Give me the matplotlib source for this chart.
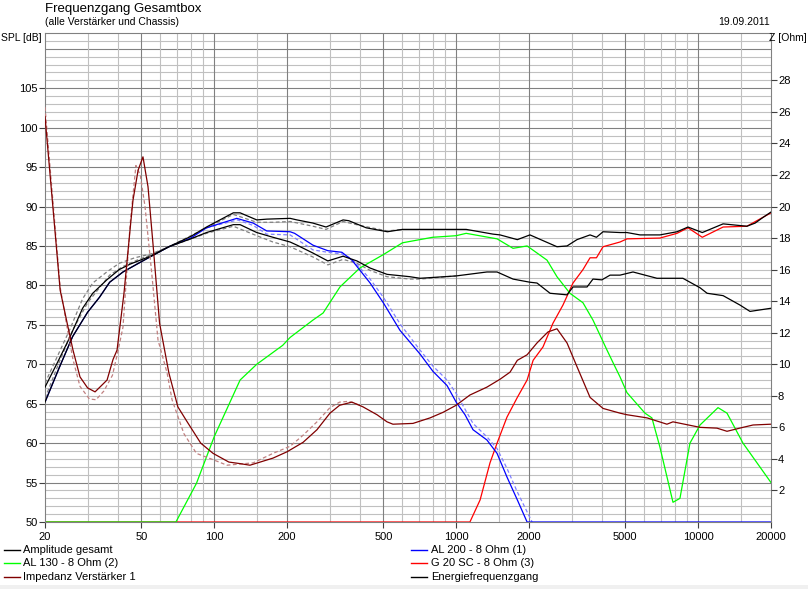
import matplotlib
matplotlib.use('Agg')
import matplotlib.pyplot as plt
from matplotlib.lines import Line2D
from matplotlib.patches import Rectangle

plt.rcParams['font.family'] = ['Liberation Sans', 'DejaVu Sans']

# --- data (Hz -> dB, Hz -> Ohm) ---
amp_f = [20, 23, 26, 30, 33.6, 37, 42, 48, 55, 65, 80, 93, 120, 128, 150, 175, 206, 220,
         256, 295, 341, 389, 441, 518, 644, 709, 1000, 1340, 1476, 1718, 2018, 2158, 2444,
         2872, 3040, 3475, 3676, 4000, 4325, 4755, 5380, 6760, 8650, 10180, 10890, 12680,
         14900, 16380, 20000]
amp_db = [65.2, 69.7, 73.5, 76.6, 78.5, 80.4, 81.7, 82.7, 83.7, 84.9, 85.9, 86.7, 87.7, 87.7,
          86.7, 86.1, 85.5, 85.1, 84.1, 83.1, 83.7, 83.1, 82.2, 81.4, 81.1, 80.9, 81.2, 81.7,
          81.7, 80.8, 80.4, 80.3, 79.0, 78.8, 79.8, 79.8, 80.8, 80.7, 81.3, 81.3, 81.7, 80.9,
          80.9, 79.7, 79.0, 78.7, 77.5, 76.7, 77.1]

energy_f = [20, 22.5, 25.4, 28.6, 31.5, 36, 40.5, 45, 54.5, 65, 80, 93, 120, 128, 150, 165,
            206, 220, 256, 290, 341, 360, 425, 520, 600, 1000, 1100, 1420, 1518, 1790, 2018,
            2610, 2872, 3157, 3575, 3800, 4045, 4755, 5080, 5750, 6950, 8180, 9080, 10400,
            12680, 15900, 17200, 18500, 20000]
energy_db = [67.1, 70.2, 73.5, 77.1, 79.0, 80.7, 82.0, 82.7, 83.7, 84.9, 86.2, 87.4, 89.2, 89.2,
             88.3, 88.4, 88.5, 88.3, 87.9, 87.4, 88.3, 88.2, 87.3, 86.8, 87.1, 87.1, 87.1, 86.5,
             86.4, 85.8, 86.4, 84.9, 85.0, 85.8, 86.4, 86.1, 86.8, 86.7, 86.7, 86.4, 86.4, 86.8,
             87.4, 86.7, 87.8, 87.5, 87.9, 88.6, 89.3]

amp_prev_f = [20, 23, 26, 30, 33.6, 37, 42, 48, 55, 65, 93, 120, 150, 175, 206, 256, 295, 341,
              389, 441, 518, 644, 709, 1000]
amp_prev_db = [65.7, 70.4, 74.3, 77.8, 79.7, 81.3, 82.4, 83.2, 83.9, 84.9, 86.6, 87.5, 86.3,
               85.5, 84.9, 83.6, 82.6, 83.3, 82.8, 81.9, 81.1, 80.8, 80.8, 81.2]
energy_prev_f = [20, 25.4, 28.6, 31.5, 36, 40.5, 47, 55, 65, 93, 120, 150, 175, 206, 256, 290,
                 341, 400, 520, 600]
energy_prev_db = [67.6, 74.5, 78.3, 80.3, 81.7, 82.8, 83.5, 84.0, 84.9, 87.3, 89.0, 88.0, 88.0,
                  88.1, 87.5, 87.1, 88.1, 87.6, 86.9, 87.1]

al200_f = [20, 23, 26, 30, 33.6, 37, 42, 48, 55, 65, 80, 93, 124, 145, 165, 206, 215, 256, 295,
           337, 371, 441, 500, 586, 709, 802, 917, 1000, 1088, 1174, 1340, 1476, 1622, 1790,
           1964, 20000]
al200_db = [65.2, 69.7, 73.5, 76.6, 78.5, 80.4, 81.7, 82.7, 83.7, 84.9, 86.0, 87.3, 88.5, 87.9,
            86.9, 86.8, 86.6, 85.1, 84.4, 84.2, 83.2, 80.3, 77.8, 74.3, 71.3, 69.1, 67.3, 65.2,
            63.6, 61.7, 60.4, 58.7, 55.7, 52.8, 50.0, 50.0]
al200_prev_f = [93, 125, 145, 165, 206, 256, 295, 335, 370, 441, 500, 590, 709, 800, 917, 1000,
                1088, 1174, 1340, 1476, 1622, 1790, 2000, 2060]
al200_prev_db = [87.3, 88.3, 87.6, 86.5, 86.4, 84.5, 84.2, 84.0, 83.4, 80.8, 78.5, 75.0, 71.8,
                 69.8, 68.0, 66.3, 64.3, 62.5, 60.8, 59.3, 56.8, 53.8, 50.8, 50.0]

al130_f = [20, 69.5, 84.5, 100, 128, 150, 192, 206, 256, 282, 331, 400, 500, 600, 800, 1000,
           1100, 1476, 1718, 1964, 2160, 2374, 2610, 2952, 3342, 3676, 4200, 4450, 4755, 5080,
           6030, 6440, 6950, 7870, 8410, 9250, 10180, 12080, 13160, 15320, 20000]
al130_db = [50.0, 50.0, 54.9, 60.8, 68.0, 70.0, 72.4, 73.4, 75.6, 76.5, 79.8, 82.2, 83.9, 85.4,
            86.1, 86.3, 86.6, 85.9, 84.7, 85.0, 84.1, 83.2, 81.1, 79.0, 77.8, 75.6, 71.8, 70.2,
            68.4, 66.4, 63.8, 63.2, 59.5, 52.5, 53.0, 60.0, 62.3, 64.5, 63.8, 60.0, 55.0]

g20_f = [20, 1140, 1256, 1380, 1476, 1622, 1790, 1964, 2080, 2285, 2512, 2762, 3040, 3342, 3575,
         3800, 4045, 4755, 5080, 6950, 8180, 9080, 10400, 12680, 15900, 20000]
g20_db = [50.0, 50.0, 52.8, 57.5, 60.0, 63.3, 65.8, 68.0, 70.5, 72.2, 75.2, 77.5, 80.3, 82.0,
          83.5, 83.5, 84.9, 85.5, 85.9, 86.0, 86.6, 87.3, 86.1, 87.4, 87.5, 89.2]

imp_f = [20, 23.1, 24.7, 26.1, 27.9, 30, 32.2, 36.1, 38.2, 39.7, 42.4, 45.2, 46.2, 48.5, 50.8,
         53.3, 55.9, 59.5, 65, 70.8, 77, 88, 99, 115, 128, 140.6, 175, 200, 233, 266, 301, 330,
         371, 412, 471, 518, 548, 663, 780, 882, 1000, 1140, 1340, 1518, 1670, 1790, 1964, 2158,
         2396, 2610, 2872, 3157, 3575, 4045, 4755, 5080, 6150, 7430, 7870, 10180, 11960, 13160,
         15320, 16860, 20000]
imp_ohm = [25.7, 14.7, 12.6, 10.9, 9.2, 8.5, 8.25, 9.0, 10.3, 10.9, 14.5, 18.95, 20.4, 22.3,
           23.15, 21.25, 17.6, 12.6, 9.45, 7.3, 6.4, 5.0, 4.35, 3.8, 3.7, 3.6, 4.05, 4.45, 5.05,
           5.85, 6.9, 7.4, 7.6, 7.3, 6.8, 6.35, 6.2, 6.25, 6.6, 6.95, 7.4, 8.05, 8.55, 9.05, 9.5,
           10.25, 10.6, 11.35, 12.05, 12.25, 11.35, 9.85, 7.9, 7.2, 6.9, 6.8, 6.6, 6.2, 6.35,
           6.0, 5.95, 5.75, 6.0, 6.15, 6.2]
imp_prev_f = [20, 23.1, 24.7, 26.1, 27.9, 30.5, 32.5, 35, 38, 40, 42, 45, 47.5, 49.5, 51.8, 55.2,
              58.6, 63.9, 67, 75, 84.5, 99, 113, 145, 175, 206, 233, 266, 301, 330, 360, 400]
imp_prev_ohm = [26.3, 14.9, 12.3, 10.3, 8.6, 7.8, 7.75, 8.3, 9.3, 10.8, 12.35, 18.95, 22.6, 22.0,
                20.0, 15.8, 11.55, 9.45, 7.75, 5.6, 4.35, 3.95, 3.6, 3.75, 4.35, 4.8, 5.5, 6.35,
                7.25, 7.6, 7.65, 7.4]

x_ticks = [20, 50, 100, 200, 500, 1000, 2000, 5000, 10000, 20000]
x_minor = [30, 40, 60, 70, 80, 90, 150, 300, 400, 600, 700, 800, 900, 1500, 3000, 4000,
           6000, 7000, 8000, 9000, 15000]
spl_ticks = [50, 55, 60, 65, 70, 75, 80, 85, 90, 95, 100, 105]
z_ticks = [2, 4, 6, 8, 10, 12, 14, 16, 18, 20, 22, 24, 26, 28]

legend_left = [('Amplitude gesamt', 'black'), ('AL 130 - 8 Ohm (2)', '#00ff00'),
               ('Impedanz Verstärker 1', '#800000')]
legend_right = [('AL 200 - 8 Ohm (1)', '#0000ff'), ('G 20 SC - 8 Ohm (3)', '#ff0000'),
                ('Energiefrequenzgang', 'black')]

W, H = 808, 589
fig = plt.figure(figsize=(W / 100, H / 100), dpi=100)
fig.patch.set_facecolor('white')
fig.patches.append(Rectangle((0, 0), 1, 4 / H, transform=fig.transFigure,
                             facecolor='#f0f0f0', edgecolor='none'))

ax = fig.add_axes([45 / W, 1 - 522 / H, 726 / W, 489 / H])
ax.set_xscale('log')
ax.set_xlim(20, 20000)
ax.set_ylim(50, 112)

minor_c = '#c0c0c0'
major_c = '#808080'
# grid
for db in range(51, 112):
    ax.axhline(db, color=major_c if db % 5 == 0 else minor_c, lw=0.8, zorder=0)
for f in x_minor:
    ax.axvline(f, color=minor_c, lw=0.8, zorder=0)
for f in x_ticks[1:-1]:
    ax.axvline(f, color=major_c, lw=0.8, zorder=0)

ax.set_xticks(x_ticks)
ax.set_xticklabels([str(v) for v in x_ticks])
ax.set_xticks([], minor=True)
ax.set_yticks(spl_ticks)
ax.set_yticklabels([str(v) for v in spl_ticks])
ax.tick_params(axis='both', length=4, width=0.8, labelsize=8, pad=1, color='#404040')
ax.tick_params(axis='x', pad=3)
for s in ax.spines.values():
    s.set_color('#808080')
    s.set_linewidth(0.8)

lw = 0.9
dash = (0, (3, 2))
ax.plot(amp_prev_f, amp_prev_db, color='#808080', lw=lw, ls=dash, zorder=1)
ax.plot(energy_prev_f, energy_prev_db, color='#808080', lw=lw, ls=dash, zorder=1)
ax.plot(al200_prev_f, al200_prev_db, color='#8080ff', lw=lw, ls=dash, zorder=1)
ax.plot(g20_f, g20_db, color='#ff0000', lw=lw, zorder=2)
ax.plot(al130_f, al130_db, color='#00ff00', lw=lw, zorder=2.1)
ax.plot(al200_f, al200_db, color='#0000ff', lw=lw, zorder=2.2)
ax.plot(energy_f, energy_db, color='black', lw=lw, zorder=3)
ax.plot(amp_f, amp_db, color='black', lw=lw, zorder=3)

az = ax.twinx()
az.set_ylim(0, 31)
az.set_yticks(z_ticks)
az.set_yticklabels([str(v) for v in z_ticks])
az.tick_params(axis='y', length=4, width=0.8, labelsize=8, pad=1, color='#404040')
for s in az.spines.values():
    s.set_visible(False)
az.plot(imp_prev_f, imp_prev_ohm, color='#c08080', lw=lw, ls=dash, zorder=1)
az.plot(imp_f, imp_ohm, color='#800000', lw=lw, zorder=2)

# header texts
fig.text(45 / W, 1 - 9 / H, 'Frequenzgang Gesamtbox', fontsize=9.5, va='center', ha='left')
fig.text(45 / W, 1 - 22 / H, '(alle Verstärker und Chassis)', fontsize=7.5, va='center', ha='left')
fig.text(770 / W, 1 - 22 / H, '19.09.2011', fontsize=7.5, va='center', ha='right')
fig.text(1 / W, 1 - 38 / H, 'SPL [dB]', fontsize=7.5, va='center', ha='left')
fig.text(807 / W, 1 - 38 / H, 'Z [Ohm]', fontsize=7.5, va='center', ha='right')

# legend below the plot
rows = [550, 563, 577]
for (label, c), y in zip(legend_left, rows):
    fig.add_artist(Line2D([4 / W, 20 / W], [1 - y / H] * 2, color=c, lw=1))
    fig.text(23 / W, 1 - y / H, label, fontsize=8, va='center', ha='left')
for (label, c), y in zip(legend_right, rows):
    fig.add_artist(Line2D([411 / W, 427 / W], [1 - y / H] * 2, color=c, lw=1))
    fig.text(431 / W, 1 - y / H, label, fontsize=8, va='center', ha='left')

fig.savefig('out.png', dpi=100)
